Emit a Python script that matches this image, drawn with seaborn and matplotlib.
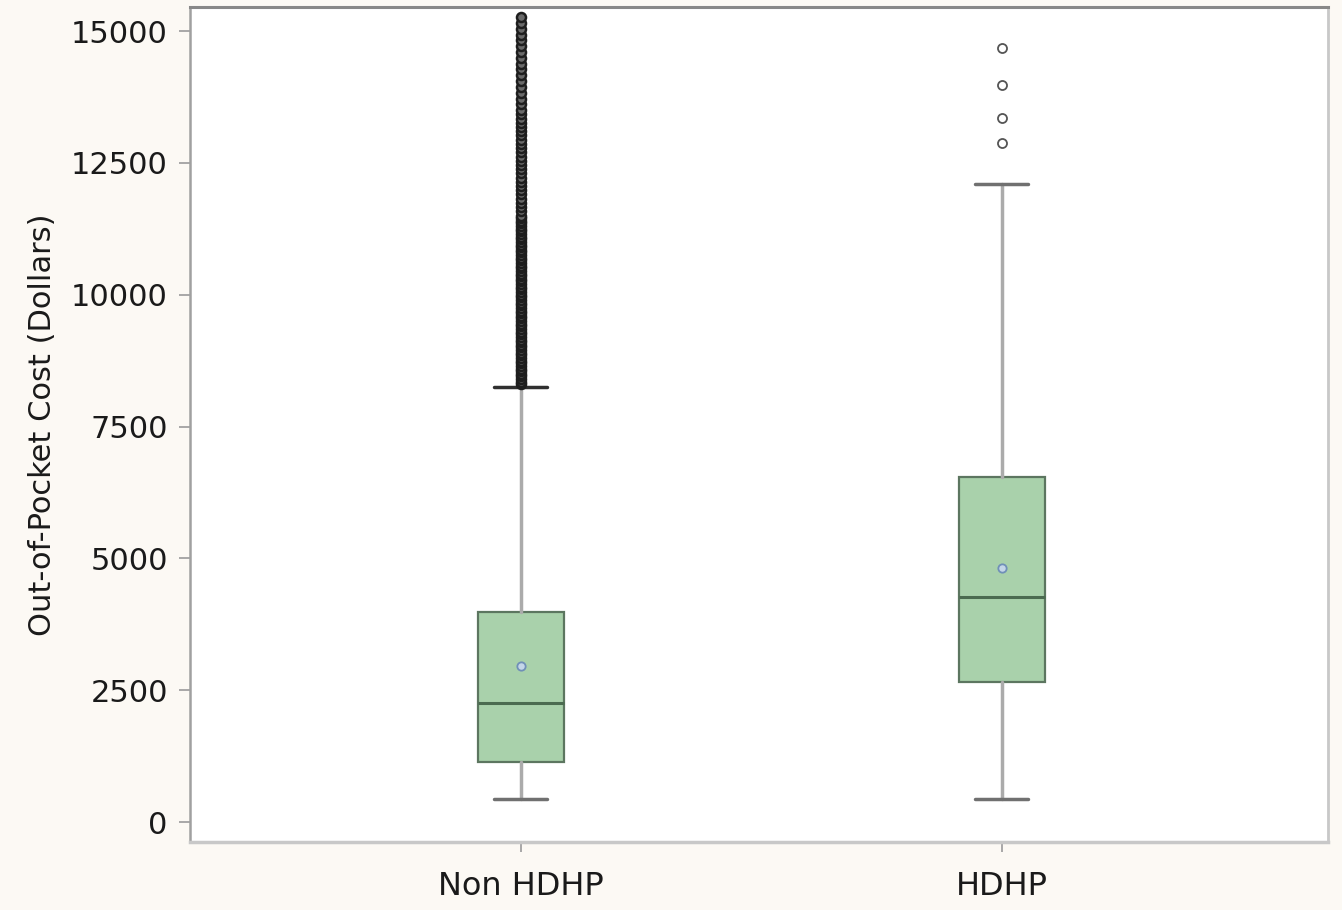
import matplotlib
matplotlib.use("Agg")
import matplotlib.pyplot as plt
import seaborn as sns

# summary values
groups = ["Non HDHP", "HDHP"]
whisker_low = [436, 436]
q1 = [1138, 2655]
median = [2257, 4267]
q3 = [3983, 6543]
whisker_high = [8250, 12099]
mean = [2958, 4817]

fliers_non_hdhp = [
    8300, 8350, 8400, 8450, 8500, 8550, 8600, 8650, 8700, 8750, 8800, 8850,
    8900, 8950, 9000, 9050, 9100, 9150, 9200, 9250, 9300, 9350, 9400, 9450,
    9500, 9550, 9600, 9650, 9700, 9750, 9800, 9850, 9900, 9950, 10000, 10050,
    10100, 10150, 10200, 10250, 10300, 10350, 10400, 10450, 10500, 10550,
    10600, 10650, 10700, 10750, 10800, 10850, 10900, 10950, 11000, 11050,
    11100, 11150, 11200, 11250, 11300, 11350, 11400, 11450, 11500,
    11580, 11660, 11740, 11820, 11900, 11980, 12060, 12140, 12220, 12300,
    12380, 12460, 12540, 12620, 12700, 12780, 12860, 12940, 13020, 13100,
    13180, 13260, 13340, 13420, 13500,
    13610, 13720, 13830, 13940, 14050, 14160, 14270, 14380, 14490, 14600,
    14710, 14820, 14930, 15040, 15150, 15260,
]
fliers_hdhp = [12877, 13351, 13977, 14679]

sns.set_style("white")

fig = plt.figure(figsize=(13.42, 9.10), dpi=100)
fig.patch.set_facecolor("#fcf9f4")
ax = fig.add_axes([0.1416, 0.0747, 0.848, 0.9176])
ax.set_facecolor("white")

stats = []
for i, g in enumerate(groups):
    stats.append({
        "label": g,
        "whislo": whisker_low[i],
        "q1": q1[i],
        "med": median[i],
        "q3": q3[i],
        "whishi": whisker_high[i],
        "mean": mean[i],
        "fliers": fliers_non_hdhp if i == 0 else fliers_hdhp,
    })

parts = ax.bxp(
    stats,
    positions=[0, 1],
    widths=0.177,
    capwidths=0.11,
    showmeans=True,
    patch_artist=True,
    boxprops=dict(facecolor="#a9d1ab", edgecolor="#5c7660", linewidth=1.6),
    medianprops=dict(color="#4b6b50", linewidth=2.2),
    whiskerprops=dict(color="#ababab", linewidth=2.5),
    capprops=dict(color="#707070", linewidth=2.5),
    flierprops=dict(marker="o", markersize=6.5, markerfacecolor="white",
                    markeredgecolor="#555555", markeredgewidth=1.3),
    meanprops=dict(marker="o", markersize=6, markerfacecolor="#c4d6e8",
                   markeredgecolor="#7090b8", markeredgewidth=1.3),
)
# the dense column of outliers reads almost black
parts["fliers"][0].set_markeredgecolor("#1e1e1e")
parts["fliers"][0].set_markerfacecolor("#6a6a6a")
parts["fliers"][0].set_markeredgewidth(1.8)
parts["caps"][1].set_color("#303030")

ax.set_xlim(-0.688, 1.678)
ax.set_ylim(-379, 15455)
ax.set_yticks([0, 2500, 5000, 7500, 10000, 12500, 15000])
ax.set_xticks([0, 1])
ax.set_xticklabels(groups, fontsize=23, color="#1a1a1a")
ax.tick_params(axis="y", labelsize=22, labelcolor="#1a1a1a", left=True,
               length=8, width=1.2, color="#9a9a9a", pad=8)
ax.tick_params(axis="x", bottom=True, length=7, width=1.2, color="#9a9a9a", pad=14)
ax.set_ylabel("Out-of-Pocket Cost (Dollars)", fontsize=22, color="#1a1a1a", labelpad=10)
ax.set_xlabel("")

for side, col, lw in [("top", "#888888", 2.2), ("left", "#a0a0a0", 1.8),
                      ("right", "#c8c8c8", 2.0), ("bottom", "#c8c8c8", 2.5)]:
    ax.spines[side].set_visible(True)
    ax.spines[side].set_color(col)
    ax.spines[side].set_linewidth(lw)

fig.savefig("out.png", dpi=100, facecolor=fig.get_facecolor())
